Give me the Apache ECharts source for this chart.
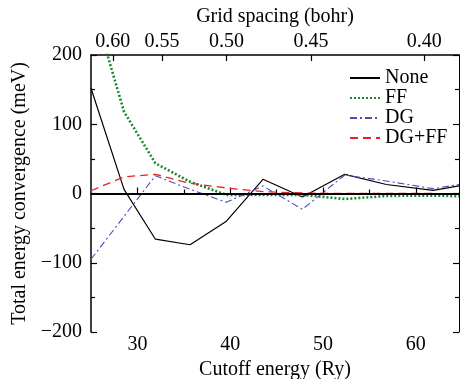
<!DOCTYPE html>
<html>
<head>
<meta charset="utf-8">
<script src="https://cdn.jsdelivr.net/npm/echarts@6/dist/echarts.min.js"></script>
<style>
html,body{margin:0;padding:0;background:#fff;}
#c{width:460px;height:379px;}
</style>
</head>
<body>
<div id="c"></div>
<script>
// Data
const cutoff = [25, 28.56, 31.94, 35.67, 39.59, 43.53, 47.78, 52.34, 56.83, 61.86, 64.65];
const noneVals = [152, 6, -66, -74, -40, 20.5, -5, 27.7, 13, 4.6, 11];
const ffVals = [281, 118, 43.6, 17, -2, -2, -2, -8, -3.5, -3, -4];
const dgVals = [-95, -33, 25.7, 6, -12.7, 10.8, -22.8, 26.7, 18, 7, 13];
const dgffVals = [4, 24, 27.7, 14.7, 8, 2.6, 0.7, 0, 0, 0, -1];
const seriesNames = ['None', 'FF', 'DG', 'DG+FF'];

const bottomTicks = [30, 40, 50, 60];
const bottomMinorTicks = [35, 45, 55];
const topTickLabels = ['0.60', '0.55', '0.50', '0.45', '0.40'];
const topTickPos = [27.35, 32.65, 39.6, 48.7, 60.9];

const FONT = "'Liberation Serif', 'Times New Roman', serif";
const X_MIN = 25, X_MAX = 64.65;

function pairs(vals){ return cutoff.map((x,i)=>[x, vals[i]]); }

const chart = echarts.init(document.getElementById('c'), null, {renderer:'canvas'});
const axisLineStyle = {color:'#000', width:1.5};
const txt = {color:'#000', fontFamily:FONT, fontSize:20};

chart.setOption({
  animation:false,
  backgroundColor:'#fff',
  grid:{left:91, top:55, right:1, bottom:47, outerBoundsMode:'none'},
  legend:{
    orient:'vertical', left:349, top:68, padding:0, itemWidth:30, itemHeight:10, itemGap:0,
    itemStyle:{opacity:0},
    textStyle:{color:'#000', fontFamily:FONT, fontSize:20, lineHeight:19.4},
    data:seriesNames
  },
  xAxis:[
    {type:'value', min:X_MIN, max:X_MAX, position:'bottom',
     axisLine:{show:true, lineStyle:axisLineStyle},
     axisTick:{show:true, inside:true, length:6, customValues:bottomTicks, lineStyle:{color:'#000', width:1.2}},
     axisLabel:{show:true, customValues:bottomTicks, margin:3, ...txt},
     splitLine:{show:false},
     name:'Cutoff energy (Ry)', nameLocation:'middle', nameGap:23, nameTextStyle:txt},
    {type:'value', min:X_MIN, max:X_MAX, position:'bottom',
     axisLine:{show:false},
     axisTick:{show:true, inside:true, length:4, customValues:bottomMinorTicks, lineStyle:{color:'#000', width:1.2}},
     axisLabel:{show:false}, splitLine:{show:false}},
    {type:'value', min:X_MIN, max:X_MAX, position:'top',
     axisLine:{show:true, lineStyle:axisLineStyle},
     axisTick:{show:true, inside:true, length:6, customValues:topTickPos, lineStyle:{color:'#000', width:1.2}},
     axisLabel:{show:true, customValues:topTickPos, margin:3, ...txt,
       formatter:function(v){
         let best=0, d=1e9;
         topTickPos.forEach((p,i)=>{ if(Math.abs(p-v)<d){d=Math.abs(p-v); best=i;} });
         return topTickLabels[best];
       }},
     splitLine:{show:false},
     name:'Grid spacing (bohr)', nameLocation:'middle', nameGap:27, nameTextStyle:txt}
  ],
  yAxis:[
    {type:'value', min:-200, max:200, interval:100, position:'left',
     axisLine:{show:true, lineStyle:axisLineStyle},
     axisTick:{show:true, inside:true, length:6, lineStyle:{color:'#000', width:1.2}},
     minorTick:{show:true, splitNumber:2, length:4, lineStyle:{color:'#000', width:1.2}},
     axisLabel:{show:true, margin:9, ...txt,
       formatter:function(v){ return v<0 ? '\u2212'+Math.abs(v) : String(v); }},
     splitLine:{show:false},
     name:'Total energy convergence (meV)', nameLocation:'middle', nameGap:58, nameRotate:90, nameTextStyle:txt},
    {type:'value', min:-200, max:200, interval:100, position:'right',
     axisLine:{show:true, lineStyle:{color:'#000', width:1}},
     axisTick:{show:true, inside:true, length:6, lineStyle:{color:'#000', width:1.2}},
     minorTick:{show:true, splitNumber:2, length:4, lineStyle:{color:'#000', width:1.2}},
     axisLabel:{show:false}, splitLine:{show:false}}
  ],
  series:[
    {name:'None', type:'line', data:pairs(noneVals), symbol:'none', clip:true,
     lineStyle:{color:'#000', width:1.2, type:'solid'}, itemStyle:{color:'#000'},
     markLine:{silent:true, symbol:['none','none'], label:{show:false},
       lineStyle:{color:'#000', width:2, type:'solid'}, data:[{yAxis:0}]}},
    {name:'FF', type:'line', data:pairs(ffVals), symbol:'none', clip:true,
     lineStyle:{color:'#17892a', width:2.6, type:[2,2]}, itemStyle:{color:'#17892a'}},
    {name:'DG', type:'line', data:pairs(dgVals), symbol:'none', clip:true,
     lineStyle:{color:'#4b4cb8', width:1.1, type:[7,3,2,3]}, itemStyle:{color:'#4b4cb8'}},
    {name:'DG+FF', type:'line', data:pairs(dgffVals), symbol:'none', clip:true,
     lineStyle:{color:'#e8202c', width:1.3, type:[8,5]}, itemStyle:{color:'#e8202c'}}
  ]
});
</script>
</body>
</html>
